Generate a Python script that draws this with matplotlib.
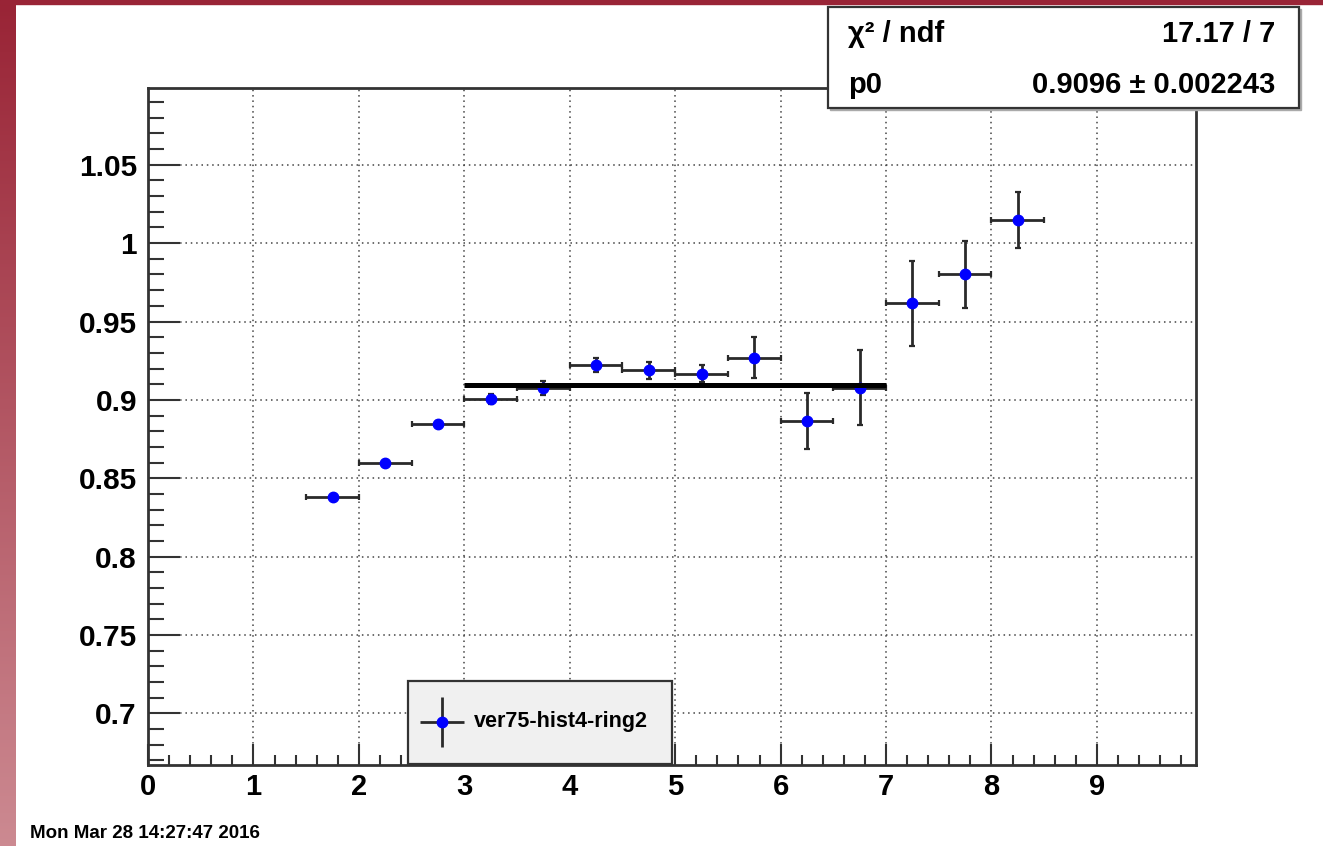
import matplotlib
matplotlib.use('Agg')
import matplotlib.pyplot as plt
import numpy as np
from matplotlib.patches import Rectangle
from matplotlib.ticker import MultipleLocator, FuncFormatter

plt.rcParams['font.family'] = ['Liberation Sans', 'DejaVu Sans']
plt.rcParams['font.weight'] = 'bold'

# ratio per bin (bin width 0.5)
bin_centers = [1.75, 2.25, 2.75, 3.25, 3.75, 4.25, 4.75, 5.25, 5.75, 6.25, 6.75, 7.25, 7.75, 8.25]
ratio = [0.8380, 0.8595, 0.8848, 0.9005, 0.9077, 0.9224, 0.9189, 0.9166,
         0.9268, 0.8866, 0.9077, 0.9615, 0.9800, 1.0147]
ratio_err = [0.0012, 0.0015, 0.0018, 0.0030, 0.0045, 0.0045, 0.0055, 0.0055,
             0.0130, 0.0180, 0.0240, 0.0270, 0.0215, 0.0180]
bin_half = 0.25

# pol0 fit result
fit_lo, fit_hi = 3, 7
p0 = 0.9096
p0_err = 0.002243
chi2 = 17.17
ndf = 7

hist_name = 'ver75-hist4-ring2'
date_str = 'Mon Mar 28 14:27:47 2016'

W, H = 1323, 846
fig = plt.figure(figsize=(W / 100, H / 100), dpi=100)

# red window frame on the left and top
top_c = np.array([0.60, 0.14, 0.21])
bot_c = np.array([0.80, 0.54, 0.57])
grad = np.linspace(0, 1, 256)[:, None, None]
img = top_c + (bot_c - top_c) * grad
side = fig.add_axes([0, 0, 16 / W, 1])
side.imshow(img, aspect='auto')
side.axis('off')
fig.patches.append(Rectangle((0, 1 - 4 / H), 1, 4 / H, transform=fig.transFigure,
                             color=top_c, zorder=10))

ax = fig.add_axes([148 / W, 1 - 765 / H, (1196 - 148) / W, (765 - 88) / H])
ax.set_xlim(0, 9.94)
ax.set_ylim(0.667, 1.099)

ax.grid(True, which='major', linestyle=(0, (1, 2.5)), color='#444', lw=1.1)
ax.set_axisbelow(True)

ax.errorbar(bin_centers, ratio, xerr=bin_half, yerr=ratio_err, fmt='o',
            color='blue', ecolor='#2a2a2a', elinewidth=2, capsize=2, capthick=1.6,
            markersize=7.5, zorder=3)
ax.plot([fit_lo, fit_hi], [p0, p0], color='black', lw=3.6,
        solid_capstyle='butt', zorder=4)

ax.xaxis.set_major_locator(MultipleLocator(1))
ax.xaxis.set_minor_locator(MultipleLocator(0.2))
ax.yaxis.set_major_locator(MultipleLocator(0.05))
ax.yaxis.set_minor_locator(MultipleLocator(0.01))
ax.yaxis.set_major_formatter(FuncFormatter(lambda v, p: '%g' % round(v, 3)))
ax.tick_params(which='both', direction='in', top=False, right=False, color='#333')
ax.tick_params(axis='y', which='major', length=23, width=1.5, pad=8, labelsize=21.5)
ax.tick_params(axis='y', which='minor', length=11.5, width=1.5)
ax.tick_params(axis='x', which='major', length=15, width=1.5, pad=6, labelsize=21)
ax.tick_params(axis='x', which='minor', length=7.5, width=1.5)
for s in ax.spines.values():
    s.set_color('#333')
    s.set_linewidth(2)

# overlay in pixel coordinates for the stat box, legend and date
ov = fig.add_axes([0, 0, 1, 1], zorder=5)
ov.set_xlim(0, W)
ov.set_ylim(H, 0)
ov.axis('off')

ov.add_patch(Rectangle((830, 9), 471, 101, color='#aaa'))
ov.add_patch(Rectangle((828, 7), 471, 101, fc='white', ec='#333', lw=1.6))
ov.text(848, 34, 'χ² / ndf', ha='left', va='center', fontsize=21)
ov.text(1275, 34, f'{chi2:.2f} / {ndf}', ha='right', va='center', fontsize=21)
ov.text(848, 85, 'p0', ha='left', va='center', fontsize=21)
ov.text(1275, 85, f'{p0:.4f} ± {p0_err}', ha='right', va='center', fontsize=21)

ov.add_patch(Rectangle((408, 681), 264, 83, fc='#f0f0f0', ec='#333', lw=1.6))
ov.errorbar([442], [722], xerr=22, yerr=25, fmt='o', color='blue', ecolor='#2a2a2a',
            elinewidth=2, markersize=7.5)
ov.text(474, 722, hist_name, ha='left', va='center', fontsize=15.5)

ov.text(30, 834, date_str, ha='left', va='center', fontsize=13.5)

fig.savefig('out.png', dpi=100)
